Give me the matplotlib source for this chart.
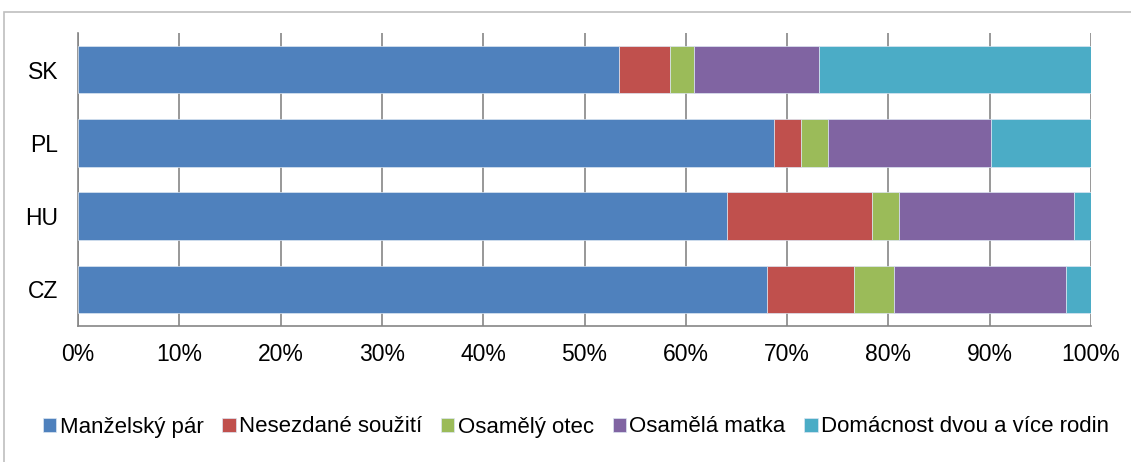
import numpy as np
import matplotlib
matplotlib.use('Agg')
import matplotlib.pyplot as plt
from matplotlib.patches import Rectangle

plt.rcParams['font.family'] = ['Liberation Sans', 'DejaVu Sans']

countries = ['CZ', 'HU', 'PL', 'SK']
series = ['Manželský pár', 'Nesezdané soužití', 'Osamělý otec',
          'Osamělá matka', 'Domácnost dvou a více rodin']
manzelsky = [68.0, 64.1, 68.7, 53.4]
nesezdane = [8.6, 14.3, 2.7, 5.0]
otec = [4.0, 2.6, 2.6, 2.4]
matka = [16.9, 17.3, 16.1, 12.3]
vice_rodin = [2.5, 1.7, 9.9, 26.9]
colors = ['#4F81BD', '#C0504D', '#9BBB59', '#8064A2', '#4BACC6']

fig = plt.figure(figsize=[11.31, 4.62], dpi=100)
ax = fig.add_axes([78/1131, 1-326/462, (1091-78)/1131, (326-33)/462])

# chart area border (extends past the image on right/bottom)
fig.patches.append(Rectangle((4/1131, -0.1), 1.2, 1-12/462+0.1, transform=fig.transFigure,
                             fill=False, edgecolor='#BFBFBF', linewidth=1.2))

y = np.arange(len(countries))
left = np.zeros(len(countries))
for name, vals, c in zip(series, [manzelsky, nesezdane, otec, matka, vice_rodin], colors):
    vals = np.array(vals)
    ax.barh(y, vals, left=left, height=0.65, color=c, edgecolor='#DCE6F2',
            linewidth=0.5, label=name, zorder=3)
    left += vals

ax.set_xlim(0, 100)
ax.set_ylim(-0.5, 3.5)
ax.set_yticks(y)
ax.set_yticklabels(countries, fontsize=16.5)
ax.set_xticks(np.arange(0, 101, 10))
ax.set_xticklabels(['{}%'.format(v) for v in range(0, 101, 10)], fontsize=16.5)
ax.tick_params(axis='y', length=0, pad=14)
ax.tick_params(axis='x', length=0, pad=12)
ax.xaxis.grid(True, color='#868686', linewidth=1.2, zorder=0)
for s in ['top', 'right']:
    ax.spines[s].set_visible(False)
for s in ['left', 'bottom']:
    ax.spines[s].set_color('#868686')
    ax.spines[s].set_linewidth(1.2)

fig.legend(loc='center', bbox_to_anchor=(576/1131, 1-427/462), ncol=5, frameon=False,
           fontsize=16, handlelength=0.6, handleheight=0.6, handletextpad=0.15,
           columnspacing=0.85)

fig.savefig('out.png', dpi=100)
